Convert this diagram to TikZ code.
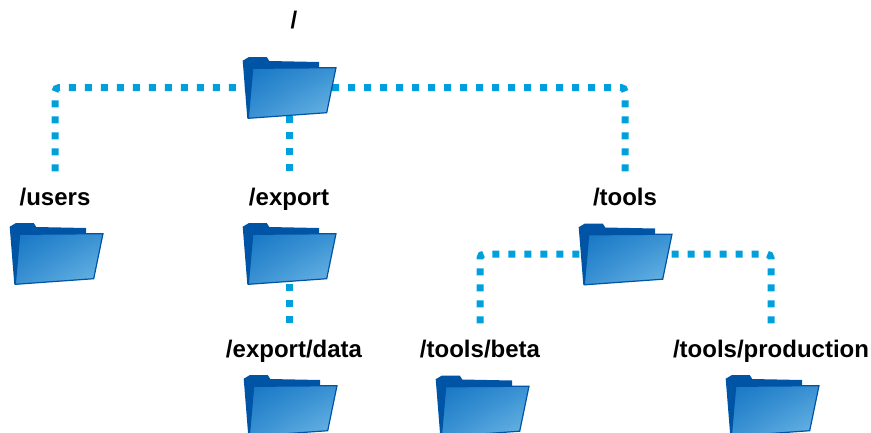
\documentclass[tikz,border=0pt]{standalone}
\usepackage{fontspec}
\setmainfont{Liberation Sans}
\usetikzlibrary{backgrounds,shadings}
\definecolor{linkblue}{RGB}{0,160,220}
\definecolor{folderedge}{RGB}{0,84,166}
\definecolor{foldertop}{RGB}{22,118,196}
\definecolor{foldermid}{RGB}{58,146,211}
\definecolor{folderlow}{RGB}{110,184,230}
\tikzset{
  font={\fontsize{24pt}{28pt}\selectfont\bfseries}}

\begin{document}
\begin{tikzpicture}[x=1pt,y=-1pt]
\tikzstyle{every node}+=[inner sep=0pt]
\tikzstyle{dir}=[anchor=base]
\tikzstyle{folder}=[minimum width=98pt,minimum height=66pt,path picture={
  \begin{scope}[shift={(path picture bounding box.center)}]
  \fill [folderedge] (-46.3,-26.8) -- (-40,-30.5) -- (-22.3,-30.5) -- (-19.7,-26.5) -- (30,-25.5) -- (30,-15) -- (-41.7,30.8) -- cycle;
  \shadedraw [upper left=foldertop,upper right=foldermid,lower left=foldermid,lower right=folderlow,draw=folderedge,line width=1.2pt] (-36.3,-19.2) -- (47,-19.8) -- (37.7,25.2) -- (-40.7,30.8) -- cycle;
  \end{scope}}]
\tikzstyle{link}=[linkblue,line width=7pt,dash pattern=on 7pt off 9pt,rounded corners=4pt,shorten <=16pt]
\useasboundingbox (0,0) rectangle (871,432);
% folders and their paths
\node [folder] (root) at (289,87.5) {};
\node [dir] (rootLbl) at (294,28) {/};
\node [folder] (users) at (56,253.5) {};
\node [dir] (usersLbl) at (55,205) {/users};
\node [folder] (export) at (289,253.5) {};
\node [dir] (exportLbl) at (289,205) {/export};
\node [folder] (tools) at (625,254) {};
\node [dir] (toolsLbl) at (625,205) {/tools};
\node [folder] (data) at (290,405.5) {};
\node [dir] (dataLbl) at (294,357) {/export/data};
\node [folder] (beta) at (482,406) {};
\node [dir] (betaLbl) at (480,357) {/tools/beta};
\node [folder] (prod) at (772,405.5) {};
\node [dir] (prodLbl) at (771,357) {/tools/production};
% dotted links
\begin{scope}[on background layer]
\draw [link] (usersLbl.north) |- (root.center);
\draw [link] (root.center |- exportLbl.north) -- (root.center);
\draw [link] (toolsLbl.north) |- (root.center);
\draw [link] (export.center |- dataLbl.north) -- (export.center);
\draw [link] (betaLbl.north) |- (tools.center);
\draw [link] (prodLbl.north) |- (tools.center);
\end{scope}
\end{tikzpicture}
\end{document}
